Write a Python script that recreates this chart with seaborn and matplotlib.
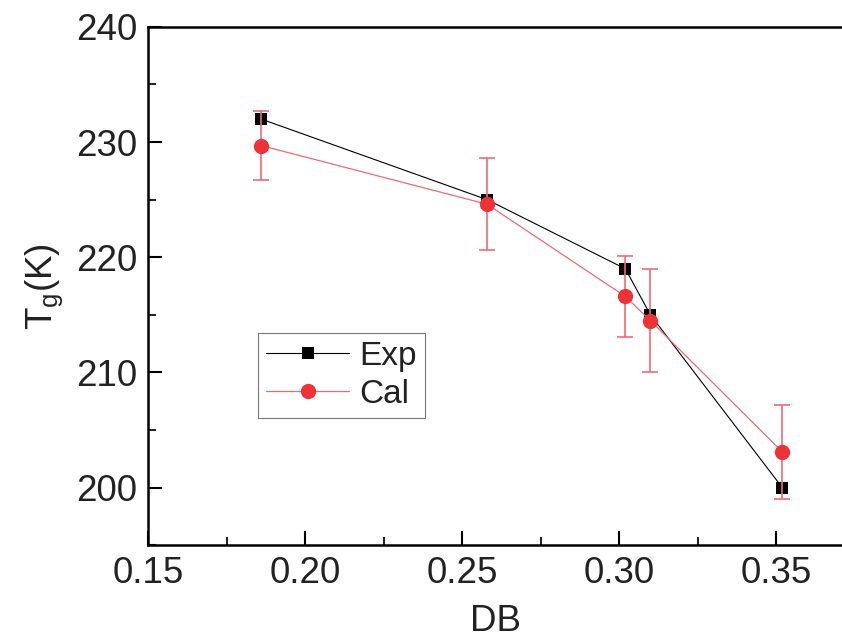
import numpy as np
import pandas as pd
import matplotlib
matplotlib.use("Agg")
import matplotlib.pyplot as plt
import seaborn as sns
from matplotlib.ticker import MultipleLocator

# data
db = [0.186, 0.258, 0.302, 0.310, 0.352]
tg_exp = [232.0, 225.0, 219.0, 215.0, 200.0]
tg_cal = [229.7, 224.6, 216.6, 214.5, 203.1]
cal_err = [3.0, 4.0, 3.5, 4.5, 4.1]

sns.set_style("ticks")
plt.rcParams["font.family"] = ["Liberation Sans", "DejaVu Sans"]

df = pd.DataFrame({"DB": db, "Exp": tg_exp, "Cal": tg_cal, "err": cal_err})

fig = plt.figure(figsize=(8.42, 6.40), dpi=100)
ax = fig.add_axes([0.1758, 0.148, 0.8242, 0.81])

red = "#EE3338"
pink = "#F06a74"
txt = "#222222"

sns.lineplot(data=df, x="DB", y="Exp", ax=ax, color="black", linewidth=0.8,
             marker="s", markersize=8, markeredgewidth=0, label="Exp")
ax.errorbar(df["DB"], df["Cal"], yerr=df["err"], fmt="none", ecolor=pink,
            elinewidth=1.2, capsize=6, capthick=1.2, zorder=3)
sns.lineplot(data=df, x="DB", y="Cal", ax=ax, color=pink, linewidth=0.9,
             marker="o", markersize=11, markerfacecolor=red,
             markeredgewidth=0, label="Cal", zorder=4)

ax.set_xlim(0.15, 0.371)
ax.set_ylim(195, 240)
ax.xaxis.set_major_locator(MultipleLocator(0.05))
ax.xaxis.set_minor_locator(MultipleLocator(0.025))
ax.yaxis.set_major_locator(MultipleLocator(10))
ax.yaxis.set_minor_locator(MultipleLocator(5))
ax.xaxis.set_major_formatter(matplotlib.ticker.FormatStrFormatter("%.2f"))

ax.tick_params(axis="both", which="major", direction="in", length=10,
               width=1.5, labelsize=26.5, pad=8, colors="black",
               labelcolor=txt)
ax.tick_params(axis="both", which="minor", direction="in", length=6,
               width=1.5)
ax.tick_params(top=False, right=False, which="both")

for side in ["left", "bottom", "top"]:
    ax.spines[side].set_linewidth(1.8)
    ax.spines[side].set_color("black")
ax.spines["right"].set_visible(False)

ax.set_xlabel("DB", fontsize=26.5, labelpad=9, color=txt)
ax.set_ylabel("T$_\\mathregular{g}$(K)", fontsize=26.5, labelpad=8, color=txt)

leg = ax.legend(loc="upper left", bbox_to_anchor=(0.158, 0.41), fontsize=24,
                frameon=True, fancybox=False, edgecolor="#555555",
                handlelength=2.5, handletextpad=0.3, borderpad=0.25,
                labelspacing=0.2, borderaxespad=0)
leg.get_frame().set_linewidth(0.8)
for t in leg.get_texts():
    t.set_color(txt)

fig.savefig("out.png", dpi=100)
